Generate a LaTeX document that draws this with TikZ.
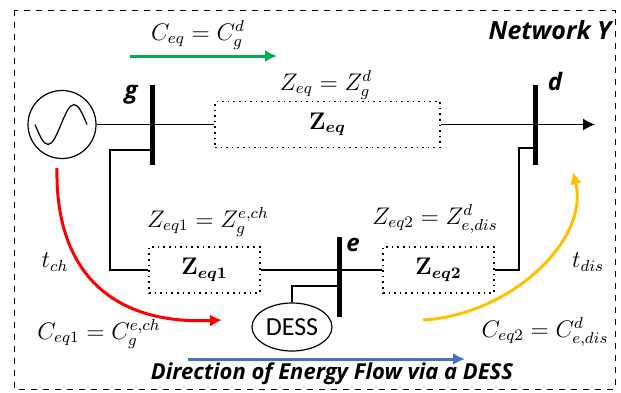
\documentclass[tikz,border=0pt]{standalone}
\usepackage{amsmath,amssymb}
\usepackage[no-math]{fontspec}
\setmainfont{Carlito}
\newfontfamily\headfont{Open Sans}
\usepackage{tikz}
\usetikzlibrary{shapes,arrows.meta,positioning}
\definecolor{flowgreen}{RGB}{0,176,80}
\definecolor{flowred}{RGB}{255,0,0}
\definecolor{flowyellow}{RGB}{255,192,0}
\definecolor{flowblue}{RGB}{68,114,196}

\begin{document}
\begin{tikzpicture}[x=0.5pt,y=-0.5pt,>={Latex[length=6pt,width=6pt]},line width=0.6pt,
  imp/.style={draw,dotted,line width=0.8pt,minimum width=55.5pt,minimum height=23pt,inner sep=0pt,font=\fontsize{11.5}{13}\selectfont},
  bus/.style={fill,inner sep=0pt,minimum width=2.5pt,minimum height=40pt},
  lab/.style={inner sep=0pt,font=\fontsize{11.5}{13}\selectfont},
  busname/.style={inner sep=0pt,font=\headfont\bfseries\itshape\fontsize{12}{14}\selectfont},
  title/.style={inner sep=0pt,font=\headfont\bfseries\itshape\fontsize{11}{13}\selectfont},
  flow/.style={->,line width=1.5pt}]
\useasboundingbox (0,0) rectangle (621,392);
\draw[dashed,line width=0.5pt] (14,10) rectangle (615,389);

\node[draw,circle,minimum size=34pt,inner sep=0pt] (gen) at (62,124.5) {};
\draw ([xshift=-13.5pt]gen.center) sin ++(13,20) cos ++(13,-20) sin ++(13,-20) cos ++(13,20);
\node[imp,minimum width=112.5pt] (zeq) at (327.5,124.5) {$\mathbf{Z}_{\boldsymbol{eq}}$};
\node[imp] (zeq1) at (204.5,270) {$\mathbf{Z}_{\boldsymbol{eq1}}$};
\node[imp] (zeq2) at (438.5,270) {$\mathbf{Z}_{\boldsymbol{eq2}}$};
\node[bus] (g) at (152,125) {};
\node[bus] (d) at (535,125) {};
\node[bus] (e) at (339,277) {};
\node[ellipse,draw,minimum width=40pt,minimum height=24pt,inner sep=0pt,font=\fontsize{13}{15}\selectfont] (dess) at (292,327) {DESS};
\node[busname] (gname) at (131,95) {g};
\node[busname] (dname) at (555,81) {d};
\node[busname] (ename) at (353,245) {e};
\coordinate (out) at (595,124.5);
\coordinate (gk) at (110,270);
\coordinate (dk) at (519,270);

\draw (gen) -- (zeq);
\draw[->] (zeq) -- (out);
\draw ([yshift=-12.5pt]g.center) -| (gk) -- (zeq1);
\draw ([yshift=-11.5pt]d.center) -| (dk) -- (zeq2);
\draw (zeq1) -- (zeq2);
\draw (dess) |- ([yshift=-4.5pt]e.center);

\coordinate (cs) at (130,56);
\coordinate (ce) at (277,56);
\coordinate (rs) at (57,168);
\coordinate (re) at (222,320);
\coordinate (ys) at (423,320);
\coordinate (ye) at (573,172);
\coordinate (bs) at (188,359);
\coordinate (be) at (465,359);
\draw[flow,flowgreen] (cs) -- (ce);
\draw[flow,flowred] (rs) .. controls (55,270) and (110,325) .. (re);
\draw[flow,flowyellow] (ys) .. controls (510,315) and (590,240) .. (ye);
\draw[flow,flowblue] (bs) -- (be);

\node[lab] (ceq) at (198,35) {$C_{eq} = C_g^d$};
\node[lab] (zeqlab) at (326,85) {$Z_{eq} = Z_g^d$};
\node[lab] (zeq1lab) at (208,222) {$Z_{eq1} = Z_g^{e,ch}$};
\node[lab] (zeq2lab) at (435,219) {$Z_{eq2} = Z_{e,dis}^d$};
\node[lab] (tch) at (55,262) {$t_{ch}$};
\node[lab] (tdis) at (588,262) {$t_{dis}$};
\node[lab] (ceq1) at (99,334) {$C_{eq1} = C_g^{e,ch}$};
\node[lab] (ceq2) at (545,332) {$C_{eq2} = C_{e,dis}^d$};
\node[title,font=\headfont\bfseries\itshape\fontsize{12.5}{14}\selectfont] (net) at (550,30) {Network Y};
\node[title] (dir) at (332,374) {Direction of Energy Flow via a DESS};
\end{tikzpicture}
\end{document}
